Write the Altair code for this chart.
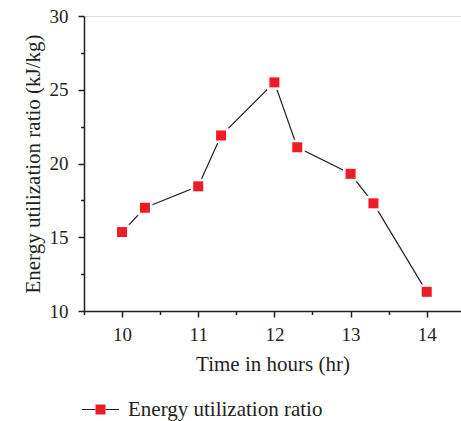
import altair as alt
import pandas as pd

# data
hours = [10, 10.3, 11, 11.3, 12, 12.3, 13, 13.3, 14]
ratio = [15.35, 17.0, 18.45, 21.9, 25.5, 21.1, 19.3, 17.3, 11.3]
series_name = "Energy utilization ratio"

x_major = [10, 11, 12, 13, 14]
x_minor = [9.5, 10.5, 11.5, 12.5, 13.5, 14.5]
y_major = [10, 15, 20, 25, 30]
y_minor = [12.5, 17.5, 22.5, 27.5]

df = pd.DataFrame({"hour": hours, "ratio": ratio,
                   "series": [series_name] * len(hours),
                   "series2": [series_name] * len(hours)})

INK = "#231f20"
RED = "#ed1c24"
FONT = "Liberation Serif"

xscale = alt.Scale(domain=[9.5, 14.45], nice=False, zero=False)
yscale = alt.Scale(domain=[10, 30], nice=False, zero=False)

main_x_axis = alt.Axis(orient="bottom", values=x_major, tickSize=6, tickWidth=1.5,
                       domainWidth=1.5, domainColor=INK, tickColor=INK,
                       labelFont=FONT, labelFontSize=19, labelColor=INK, labelPadding=8,
                       title="Time in hours (hr)", titleFont=FONT, titleFontSize=21,
                       titleFontWeight="normal", titleColor=INK, titlePadding=9,
                       grid=False, format="d")
main_y_axis = alt.Axis(orient="left", values=y_major, tickSize=6, tickWidth=1.5,
                       domainWidth=1.5, domainColor=INK, tickColor=INK,
                       labelFont=FONT, labelFontSize=19, labelColor=INK, labelPadding=10,
                       title="Energy utilization ratio (kJ/kg)", titleFont=FONT,
                       titleFontSize=21, titleFontWeight="normal", titleColor=INK,
                       titlePadding=6, grid=False, format="d")
minor_x_axis = alt.Axis(orient="bottom", values=x_minor, tickSize=3.5, tickWidth=1.5,
                        tickColor=INK, domain=False, labels=False, title=None, grid=False)
minor_y_axis = alt.Axis(orient="left", values=y_minor, tickSize=3.5, tickWidth=1.5,
                        tickColor=INK, domain=False, labels=False, title=None, grid=False)

LEG_X = 6
LEG_Y = 383

line = alt.Chart(df).mark_line(strokeWidth=1.2).encode(
    x=alt.X("hour:Q", scale=xscale, axis=main_x_axis),
    y=alt.Y("ratio:Q", scale=yscale, axis=main_y_axis),
    stroke=alt.Stroke("series:N", scale=alt.Scale(domain=[series_name], range=[INK]),
                      legend=alt.Legend(orient="none", legendX=LEG_X, legendY=LEG_Y,
                                        title=None, padding=0,
                                        symbolType="M-3.7,0H-1M1,0H3.7", symbolSize=100,
                                        symbolStrokeWidth=1.2,
                                        labelFont=FONT, labelFontSize=21, labelColor=INK,
                                        labelOffset=17, labelLimit=400))
)

halo = alt.Chart(df).mark_square(size=225, color="white", opacity=1, strokeWidth=0).encode(
    x=alt.X("hour:Q", scale=xscale, axis=minor_x_axis),
    y=alt.Y("ratio:Q", scale=yscale, axis=minor_y_axis),
)

points = alt.Chart(df).mark_square(size=100, opacity=1, strokeWidth=0).encode(
    x=alt.X("hour:Q", scale=xscale, axis=None),
    y=alt.Y("ratio:Q", scale=yscale, axis=None),
    fill=alt.Fill("series2:N", scale=alt.Scale(range=[RED]),
                  legend=alt.Legend(orient="none", legendX=LEG_X, legendY=LEG_Y,
                                    title=None, padding=0,
                                    symbolType="square", symbolSize=100,
                                    symbolStrokeWidth=1.2, symbolStrokeColor="transparent",
                                    labelFont=FONT, labelFontSize=21, labelColor=INK,
                                    labelOpacity=0, labelOffset=17, labelLimit=400))
)

chart = alt.layer(line, halo, points).resolve_axis(
    x="independent", y="independent"
).properties(
    width=377, height=295,
    autosize=alt.AutoSizeParams(type="none"),
    padding={"left": 84, "top": 16, "right": 0, "bottom": 110},
).configure_view(stroke=None).configure(background="white")

chart.save("out.html", embed_options={"renderer": "svg", "actions": False})
